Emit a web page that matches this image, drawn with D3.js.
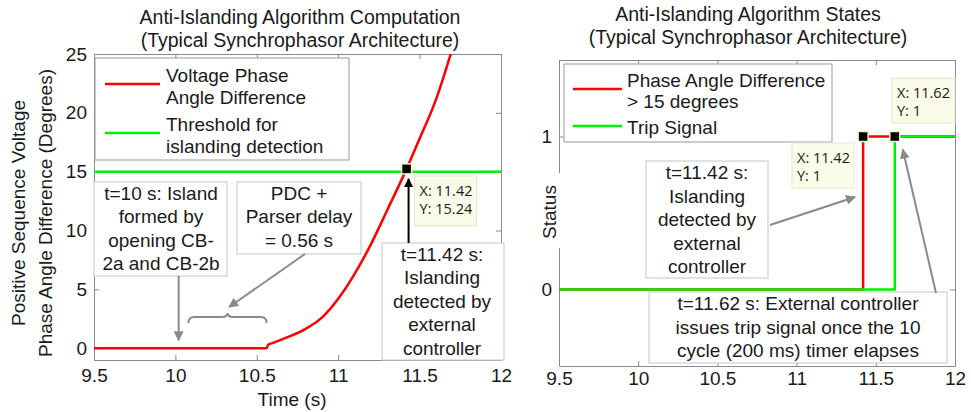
<!DOCTYPE html>
<html>
<head>
<meta charset="utf-8">
<script src="https://cdn.jsdelivr.net/npm/d3@7"></script>
<style>
  body { margin: 0; background: #fff; }
  svg text { font-family: "Liberation Sans", Arial, sans-serif; fill: #1a1a1a; }
  .axis path, .axis line { stroke: #8a8a8a; }
  .axis text { font-size: 19px; fill: #1a1a1a; }
  svg .tip text { font-family: "Open Sans", sans-serif; font-size: 14.5px; }
</style>
</head>
<body>
<svg id="chart" width="971" height="412"></svg>
<script>
// left panel: voltage phase angle difference (degrees) vs time (s)
const angleTime = [9.5, 10.56, 10.57, 10.6, 10.7, 10.8, 10.9, 11.0, 11.1, 11.2, 11.3, 11.42, 11.5, 11.6, 11.7];
const angleDeg = [0, 0, 0.3, 0.45, 1.0, 1.65, 2.6, 4.2, 6.3, 8.8, 11.7, 15.24, 17.8, 21.1, 25.4];
const thresholdDeg = 15;
const detectPoint = { t: 11.42, v: 15.24 };

// right panel: algorithm states
const phaseStateTime = [9.5, 11.42, 11.42, 12];
const phaseStateValue = [0, 0, 1, 1];
const tripTime = [9.5, 11.62, 11.62, 12];
const tripValue = [0, 0, 1, 1];
const statePoints = [{ t: 11.42, v: 1 }, { t: 11.62, v: 1 }];

const xTicks = [9.5, 10, 10.5, 11, 11.5, 12];
const angleTicks = [0, 5, 10, 15, 20, 25];
const stateTicks = [0, 1];

const svg = d3.select('#chart');
const RED = '#ff0000', GREEN = '#00f000', GRAY = '#8a8a8a';

function frame(g, x, y, yTicks, w, h, xPad) {
  g.append('g').attr('class', 'axis').attr('transform', `translate(0,${h})`)
    .call(d3.axisBottom(x).tickValues(xTicks).tickSize(-5).tickSizeOuter(0).tickPadding(xPad).tickFormat(d3.format('')));
  g.append('g').attr('class', 'axis')
    .call(d3.axisLeft(y).tickValues(yTicks).tickSize(-5).tickSizeOuter(0).tickPadding(7).tickFormat(d3.format('')));
  g.append('g').attr('class', 'axis')
    .call(d3.axisTop(x).tickValues(xTicks).tickSize(-5).tickSizeOuter(0).tickFormat(''));
  g.append('g').attr('class', 'axis').attr('transform', `translate(${w},0)`)
    .call(d3.axisRight(y).tickValues(yTicks).tickSize(-5).tickSizeOuter(0).tickFormat(''));
  g.selectAll('.axis text').attr('font-family', null);
}

function textBox(g, x, y, w, h, lines, cx, firstY, step, size) {
  const b = g.append('g').attr('transform', `translate(${x},${y})`);
  b.append('rect').attr('width', w).attr('height', h)
    .attr('fill', '#fff').attr('stroke', '#cfcfcf').attr('stroke-width', 1.2);
  b.selectAll('text').data(lines).enter().append('text')
    .attr('x', cx).attr('y', (d, i) => firstY + i * step)
    .attr('text-anchor', 'middle').attr('font-size', size).text(d => d);
  return b;
}

function dataTip(g, x, y, w, h, lines) {
  const b = g.append('g').attr('class', 'tip').attr('transform', `translate(${x},${y})`);
  b.append('rect').attr('width', w).attr('height', h)
    .attr('fill', '#fbfbea').attr('stroke', '#e6e6cf');
  b.selectAll('text').data(lines).enter().append('text')
    .attr('x', 5).attr('y', (d, i) => 20 + i * 18).text(d => d);
}

function marker(g, px, py) {
  g.append('rect').attr('x', px - 5).attr('y', py - 5).attr('width', 10).attr('height', 10)
    .attr('fill', '#000').attr('stroke', '#f3f3c6').attr('stroke-width', 1.5);
}

svg.append('defs').html(`
  <marker id="ahGray" viewBox="0 0 10 10" refX="9" refY="5" markerWidth="5" markerHeight="5" orient="auto">
    <path d="M0,0 L10,5 L0,10 z" fill="${GRAY}"/></marker>
  <marker id="ahBlack" viewBox="0 0 10 10" refX="9" refY="5" markerWidth="4.5" markerHeight="5" orient="auto">
    <path d="M0,0 L10,5 L0,10 z" fill="#000"/></marker>`);

// ---------- left panel ----------
{
  const W = 407, H = 306;
  const g = svg.append('g').attr('transform', 'translate(94,54)');
  const x = d3.scaleLinear().domain([9.5, 12]).range([0, W]);
  const y = d3.scaleLinear().domain([-1, 25]).range([H, 0]);

  g.append('clipPath').attr('id', 'clipL').append('rect').attr('width', W).attr('height', H);

  frame(g, x, y, angleTicks, W, H, 9);

  g.append('line').attr('x1', 0).attr('x2', W).attr('y1', y(thresholdDeg)).attr('y2', y(thresholdDeg))
    .attr('stroke', GREEN).attr('stroke-width', 2.5);

  const line = d3.line().x(d => x(d[0])).y(d => y(d[1])).curve(d3.curveMonotoneX);
  g.append('path').datum(d3.zip(angleTime, angleDeg)).attr('d', line)
    .attr('clip-path', 'url(#clipL)').attr('fill', 'none').attr('stroke', RED).attr('stroke-width', 2.5);

  // legend
  const lg = g.append('g');
  lg.append('rect').attr('x', 1).attr('y', 4).attr('width', 254).attr('height', 102)
    .attr('fill', '#fff').attr('stroke', '#9a9a9a');
  lg.append('line').attr('x1', 11).attr('x2', 66).attr('y1', 30).attr('y2', 30).attr('stroke', RED).attr('stroke-width', 2.5);
  lg.append('line').attr('x1', 11).attr('x2', 66).attr('y1', 79).attr('y2', 79).attr('stroke', GREEN).attr('stroke-width', 2.5);
  lg.selectAll('text').data(['Voltage Phase', 'Angle Difference', 'Threshold for', 'islanding detection'])
    .enter().append('text').attr('x', 72).attr('y', (d, i) => [28, 50, 77, 99][i])
    .attr('font-size', 19).text(d => d);

  // annotations
  textBox(g, 0, 128, 133, 94, ['t=10 s: Island', 'formed by', 'opening CB-', '2a and CB-2b'], 67, 18, 23.3, 19);
  textBox(g, 143, 128, 124, 72, ['PDC +', 'Parser delay', '= 0.56 s'], 62, 18, 23.3, 19);
  textBox(g, 288, 189, 122, 117, ['t=11.42 s:', 'Islanding', 'detected by', 'external', 'controller'], 60, 18, 23.4, 19);

  g.append('line').attr('x1', x(10.02)).attr('x2', x(10.02)).attr('y1', 222).attr('y2', y(0) - 8)
    .attr('stroke', GRAY).attr('stroke-width', 2).attr('marker-end', 'url(#ahGray)');
  g.append('line').attr('x1', 211).attr('y1', 200).attr('x2', x(10.33)).attr('y2', 253)
    .attr('stroke', GRAY).attr('stroke-width', 2).attr('marker-end', 'url(#ahGray)');

  // brace over the parser delay interval
  const b0 = x(10.08), b1 = x(10.56), bm = (b0 + b1) / 2, by = 263;
  g.append('path')
    .attr('d', `M${b0},${by + 6} q0,-6 6,-6 L${bm - 6},${by} q6,0 6,-4 q0,4 6,4 L${b1 - 6},${by} q6,0 6,6`)
    .attr('fill', 'none').attr('stroke', GRAY).attr('stroke-width', 2);

  // data tip
  const px = x(detectPoint.t), py = y(detectPoint.v);
  g.append('line').attr('x1', px + 2).attr('x2', px + 2).attr('y1', 189).attr('y2', py + 10)
    .attr('stroke', '#000').attr('stroke-width', 2).attr('marker-end', 'url(#ahBlack)');
  marker(g, px, py);
  dataTip(g, px + 8, py + 7, 62, 50, ['X: ' + detectPoint.t, 'Y: ' + detectPoint.v]);

  // titles
  svg.append('text').attr('x', 300).attr('y', 24).attr('text-anchor', 'middle').attr('font-size', 19.5)
    .text('Anti-Islanding Algorithm Computation');
  svg.append('text').attr('x', 300).attr('y', 47).attr('text-anchor', 'middle').attr('font-size', 19.5)
    .text('(Typical Synchrophasor Architecture)');
  svg.append('text').attr('x', 292).attr('y', 406).attr('text-anchor', 'middle').attr('font-size', 19)
    .text('Time (s)');
  const yl = svg.append('g').attr('transform', 'translate(0,213) rotate(-90)');
  yl.append('text').attr('x', 0).attr('y', 25).attr('text-anchor', 'middle').attr('font-size', 19)
    .text('Positive Sequence Voltage');
  yl.append('text').attr('x', 0).attr('y', 52).attr('text-anchor', 'middle').attr('font-size', 19)
    .text('Phase Angle Difference (Degrees)');
}

// ---------- right panel ----------
{
  const W = 396, H = 306;
  const g = svg.append('g').attr('transform', 'translate(559,60)');
  const x = d3.scaleLinear().domain([9.5, 12]).range([0, W]);
  const y = d3.scaleLinear().domain([-0.5, 1.5]).range([H, 0]);

  frame(g, x, y, stateTicks, W, H, 6);

  // Status label sits over the axis line
  svg.append('rect').attr('x', 537).attr('y', 173).attr('width', 24).attr('height', 75).attr('fill', '#fff');
  svg.append('text').attr('transform', 'translate(556,212) rotate(-90)').attr('text-anchor', 'middle')
    .attr('font-size', 19).text('Status');

  const line = d3.line().x(d => x(d[0])).y(d => y(d[1]));
  g.append('path').datum(d3.zip(phaseStateTime, phaseStateValue)).attr('d', line)
    .attr('fill', 'none').attr('stroke', RED).attr('stroke-width', 2.5);
  g.append('path').datum(d3.zip(tripTime, tripValue)).attr('d', line)
    .attr('fill', 'none').attr('stroke', GREEN).attr('stroke-width', 2.5);

  statePoints.forEach(p => marker(g, x(p.t), y(p.v)));

  // legend
  const lg = g.append('g');
  lg.append('rect').attr('x', 5).attr('y', 4).attr('width', 268).attr('height', 78)
    .attr('fill', '#fff').attr('stroke', '#9a9a9a');
  lg.append('line').attr('x1', 14).attr('x2', 63).attr('y1', 29).attr('y2', 29).attr('stroke', RED).attr('stroke-width', 2.5);
  lg.append('line').attr('x1', 14).attr('x2', 63).attr('y1', 66).attr('y2', 66).attr('stroke', GREEN).attr('stroke-width', 2.5);
  lg.selectAll('text').data(['Phase Angle Difference', '> 15 degrees', 'Trip Signal'])
    .enter().append('text').attr('x', 68).attr('y', (d, i) => [27, 48, 74][i])
    .attr('font-size', 19).text(d => d);

  dataTip(g, 233, 83, 62, 45, ['X: ' + statePoints[0].t, 'Y: ' + statePoints[0].v]);
  dataTip(g, 333, 18, 63, 45, ['X: ' + statePoints[1].t, 'Y: ' + statePoints[1].v]);

  textBox(g, 87, 101, 122, 117, ['t=11.42 s:', 'Islanding', 'detected by', 'external', 'controller'], 61, 18, 23.6, 19);
  textBox(g, 90, 232, 298, 71, ['t=11.62 s: External controller', 'issues trip signal once the 10', 'cycle (200 ms) timer elapses'], 149, 18, 23.5, 19);

  g.append('line').attr('x1', 211).attr('y1', 165).attr('x2', x(statePoints[0].t) - 8).attr('y2', 137)
    .attr('stroke', GRAY).attr('stroke-width', 2).attr('marker-end', 'url(#ahGray)');
  g.append('line').attr('x1', 377).attr('y1', 233).attr('x2', x(statePoints[1].t) + 8).attr('y2', y(1) + 13)
    .attr('stroke', GRAY).attr('stroke-width', 2).attr('marker-end', 'url(#ahGray)');

  svg.append('text').attr('x', 748).attr('y', 21).attr('text-anchor', 'middle').attr('font-size', 19.5)
    .text('Anti-Islanding Algorithm States');
  svg.append('text').attr('x', 748).attr('y', 44).attr('text-anchor', 'middle').attr('font-size', 19.5)
    .text('(Typical Synchrophasor Architecture)');
}
</script>
</body>
</html>
